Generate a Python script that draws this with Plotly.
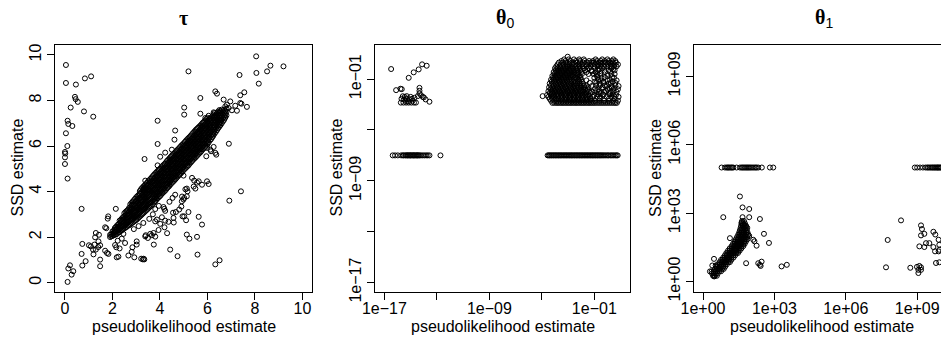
import numpy as np
import plotly.graph_objects as go

W, H = 941, 338

# ---------------- panel 1: tau (linear scale) ----------------
# dense diagonal band, one column of SSD estimates per pseudolikelihood value
tau_band_pl = [1.9, 2.0, 2.1, 2.2, 2.3, 2.4, 2.5, 2.6, 2.7, 2.8, 2.9, 3.0, 3.1, 3.2, 3.3,
               3.4, 3.5, 3.6, 3.7, 3.8, 3.9, 4.0, 4.1, 4.2, 4.3, 4.4, 4.5, 4.6, 4.7, 4.8,
               4.9, 5.0, 5.1, 5.2, 5.3, 5.4, 5.5, 5.6, 5.7, 5.8, 5.9, 6.0, 6.1, 6.2, 6.3,
               6.4, 6.5, 6.6, 6.7, 6.8]
tau_band_ssd = [
    [2.0, 2.1],
    [2.05, 2.15, 2.25],
    [2.1, 2.22, 2.32, 2.4],
    [2.15, 2.28, 2.4, 2.52],
    [2.22, 2.35, 2.48, 2.6, 2.72],
    [2.3, 2.45, 2.58, 2.7, 2.82],
    [2.38, 2.52, 2.66, 2.8, 2.92, 3.05],
    [2.45, 2.6, 2.75, 2.88, 3.0, 3.15],
    [2.52, 2.68, 2.84, 2.98, 3.12, 3.28],
    [2.6, 2.76, 2.92, 3.08, 3.22, 3.38, 3.5],
    [2.68, 2.85, 3.0, 3.15, 3.3, 3.45, 3.62],
    [2.75, 2.92, 3.1, 3.26, 3.42, 3.58, 3.75],
    [2.85, 3.02, 3.2, 3.36, 3.52, 3.68, 3.85],
    [2.95, 3.12, 3.3, 3.48, 3.62, 3.78, 3.95, 4.1],
    [3.05, 3.22, 3.4, 3.58, 3.74, 3.9, 4.06, 4.22],
    [3.15, 3.32, 3.5, 3.68, 3.85, 4.0, 4.18, 4.32],
    [3.25, 3.42, 3.6, 3.78, 3.95, 4.12, 4.28, 4.45],
    [3.35, 3.52, 3.7, 3.9, 4.05, 4.22, 4.4, 4.56],
    [3.45, 3.62, 3.8, 4.0, 4.16, 4.32, 4.5, 4.68],
    [3.58, 3.75, 3.92, 4.1, 4.28, 4.45, 4.62, 4.8],
    [3.7, 3.85, 4.02, 4.2, 4.38, 4.55, 4.72, 4.9],
    [3.8, 3.96, 4.14, 4.32, 4.5, 4.66, 4.84, 5.0],
    [3.92, 4.08, 4.25, 4.42, 4.6, 4.78, 4.95, 5.12],
    [4.02, 4.18, 4.36, 4.54, 4.72, 4.88, 5.05, 5.22],
    [4.15, 4.3, 4.48, 4.66, 4.84, 5.0, 5.18, 5.35],
    [4.25, 4.42, 4.6, 4.78, 4.95, 5.12, 5.3, 5.46],
    [4.38, 4.54, 4.72, 4.9, 5.06, 5.22, 5.4, 5.58],
    [4.48, 4.65, 4.82, 5.0, 5.18, 5.34, 5.52, 5.68],
    [4.6, 4.76, 4.94, 5.12, 5.28, 5.45, 5.62, 5.8],
    [4.72, 4.88, 5.05, 5.22, 5.4, 5.56, 5.74, 5.9],
    [4.82, 5.0, 5.16, 5.34, 5.5, 5.68, 5.85, 6.02],
    [4.95, 5.1, 5.28, 5.45, 5.62, 5.78, 5.96, 6.12],
    [5.05, 5.22, 5.4, 5.56, 5.72, 5.9, 6.06, 6.24],
    [5.15, 5.32, 5.5, 5.68, 5.84, 6.0, 6.18, 6.35],
    [5.28, 5.45, 5.62, 5.8, 5.96, 6.12, 6.3, 6.46],
    [5.4, 5.56, 5.72, 5.9, 6.06, 6.24, 6.4, 6.58],
    [5.5, 5.66, 5.84, 6.02, 6.18, 6.35, 6.52, 6.7],
    [5.62, 5.78, 5.95, 6.12, 6.3, 6.46, 6.62, 6.8],
    [5.72, 5.9, 6.06, 6.24, 6.4, 6.58, 6.74, 6.9],
    [5.85, 6.0, 6.18, 6.36, 6.52, 6.7, 6.86, 7.02],
    [5.96, 6.12, 6.3, 6.48, 6.64, 6.8, 6.96, 7.12],
    [6.08, 6.24, 6.42, 6.6, 6.76, 6.92, 7.08, 7.24],
    [6.25, 6.4, 6.56, 6.72, 6.88, 7.04, 7.2],
    [6.38, 6.52, 6.68, 6.84, 7.0, 7.15, 7.3],
    [6.55, 6.7, 6.86, 7.0, 7.15, 7.3, 7.45],
    [6.7, 6.85, 7.0, 7.15, 7.3, 7.45],
    [6.85, 7.0, 7.15, 7.3, 7.45, 7.58],
    [7.0, 7.15, 7.3, 7.45, 7.6],
    [7.15, 7.3, 7.45, 7.6],
    [7.35, 7.5, 7.65],
]
tau_band2_pl = [1.95, 2.05, 2.15, 2.25, 2.35, 2.45, 2.55, 2.65, 2.75, 2.85, 2.95, 3.05,
                3.15, 3.25, 3.35, 3.45, 3.55, 3.65, 3.75, 3.85, 3.95, 4.05, 4.15, 4.25,
                4.35, 4.45, 4.55, 4.65, 4.75, 4.85, 4.95, 5.05, 5.15, 5.25, 5.35, 5.45,
                5.55, 5.65, 5.75, 5.85, 5.95, 6.05, 6.15, 6.25, 6.35, 6.45, 6.55, 6.65,
                6.75]
tau_band2_ssd = [
    [2.03, 2.13],
    [2.08, 2.18, 2.28],
    [2.12, 2.24, 2.35, 2.45],
    [2.2, 2.32, 2.44, 2.56],
    [2.27, 2.4, 2.52, 2.65, 2.76],
    [2.35, 2.48, 2.62, 2.75, 2.88],
    [2.42, 2.56, 2.7, 2.84, 2.96, 3.1],
    [2.5, 2.65, 2.8, 2.93, 3.06, 3.2],
    [2.56, 2.72, 2.88, 3.03, 3.17, 3.32, 3.44],
    [2.64, 2.8, 2.96, 3.12, 3.26, 3.42, 3.56],
    [2.72, 2.88, 3.05, 3.2, 3.36, 3.52, 3.68],
    [2.8, 2.97, 3.15, 3.31, 3.47, 3.63, 3.8],
    [2.9, 3.07, 3.25, 3.42, 3.57, 3.73, 3.9, 4.02],
    [3.0, 3.17, 3.35, 3.53, 3.68, 3.84, 4.0, 4.16],
    [3.1, 3.27, 3.45, 3.63, 3.8, 3.95, 4.12, 4.27],
    [3.2, 3.37, 3.55, 3.73, 3.9, 4.06, 4.23, 4.38],
    [3.3, 3.47, 3.65, 3.84, 4.0, 4.17, 4.34, 4.5],
    [3.4, 3.57, 3.75, 3.95, 4.1, 4.27, 4.45, 4.62],
    [3.52, 3.68, 3.86, 4.05, 4.22, 4.38, 4.56, 4.74],
    [3.64, 3.8, 3.97, 4.15, 4.33, 4.5, 4.67, 4.85],
    [3.75, 3.9, 4.08, 4.26, 4.44, 4.6, 4.78, 4.95],
    [3.86, 4.02, 4.2, 4.37, 4.55, 4.72, 4.9, 5.06],
    [3.97, 4.13, 4.3, 4.48, 4.66, 4.83, 5.0, 5.17],
    [4.08, 4.24, 4.42, 4.6, 4.78, 4.94, 5.12, 5.28],
    [4.2, 4.36, 4.54, 4.72, 4.9, 5.06, 5.24, 5.4],
    [4.32, 4.48, 4.66, 4.84, 5.0, 5.17, 5.35, 5.52],
    [4.43, 4.6, 4.77, 4.95, 5.12, 5.28, 5.46, 5.63],
    [4.54, 4.7, 4.88, 5.06, 5.23, 5.4, 5.57, 5.74],
    [4.66, 4.82, 5.0, 5.17, 5.34, 5.5, 5.68, 5.85],
    [4.77, 4.94, 5.1, 5.28, 5.45, 5.62, 5.8, 5.96],
    [4.88, 5.05, 5.22, 5.4, 5.56, 5.73, 5.9, 6.07],
    [5.0, 5.16, 5.34, 5.5, 5.67, 5.84, 6.01, 6.18],
    [5.1, 5.27, 5.45, 5.62, 5.78, 5.95, 6.12, 6.3],
    [5.22, 5.38, 5.56, 5.74, 5.9, 6.06, 6.24, 6.4],
    [5.34, 5.5, 5.67, 5.85, 6.01, 6.18, 6.35, 6.52],
    [5.45, 5.61, 5.78, 5.96, 6.12, 6.3, 6.46, 6.64],
    [5.56, 5.72, 5.9, 6.07, 6.24, 6.4, 6.57, 6.75],
    [5.67, 5.84, 6.0, 6.18, 6.35, 6.52, 6.68, 6.85],
    [5.78, 5.95, 6.12, 6.3, 6.46, 6.64, 6.8, 6.96],
    [5.9, 6.06, 6.24, 6.42, 6.58, 6.75, 6.91, 7.07],
    [6.02, 6.18, 6.36, 6.54, 6.7, 6.86, 7.02, 7.18],
    [6.16, 6.32, 6.49, 6.66, 6.82, 6.98, 7.14],
    [6.3, 6.46, 6.62, 6.78, 6.94, 7.1, 7.25],
    [6.46, 6.61, 6.77, 6.92, 7.07, 7.22, 7.38],
    [6.62, 6.77, 6.93, 7.08, 7.22, 7.38],
    [6.78, 6.92, 7.08, 7.22, 7.38, 7.52],
    [6.92, 7.08, 7.22, 7.38, 7.52],
    [7.08, 7.22, 7.38, 7.52],
    [7.25, 7.4, 7.55],
]
# scattered tau estimates (pseudolikelihood, SSD)
tau_pairs = [
    (0.04, 9.56), (0.04, 8.77), (0.46, 8.70), (0.84, 8.97), (1.10, 9.06), (0.42, 8.16),
    (0.45, 8.06), (0.54, 7.94), (0.24, 7.69), (0.80, 7.52), (1.19, 7.29), (0.11, 7.11),
    (0.14, 6.97), (0.31, 6.88), (0.04, 6.56), (0.10, 6.00), (0.00, 5.74), (0.01, 5.67),
    (0.00, 5.50), (0.00, 5.21), (0.11, 4.57), (0.70, 3.24),
    (0.11, 0.03), (0.21, 0.76), (0.14, 0.62), (0.35, 0.50), (0.28, 0.35), (0.73, 0.75),
    (0.87, 0.94), (0.73, 1.70), (1.01, 1.64), (1.09, 1.59), (0.70, 1.26), (1.18, 1.45),
    (1.30, 1.45), (1.40, 1.56), (1.48, 1.64), (1.69, 1.40), (1.77, 1.30), (1.83, 1.26),
    (1.48, 1.01), (1.48, 0.72), (1.30, 2.18), (1.43, 2.10), (1.27, 1.99), (1.69, 2.43),
    (1.74, 2.39), (1.82, 2.91), (1.80, 2.81), (2.16, 1.55), (2.18, 1.11), (2.14, 3.24),
    (1.20, 1.24), (1.41, 1.81), (1.24, 1.67), (2.25, 1.14), (2.30, 1.50), (2.11, 1.65),
    (2.39, 1.93), (2.46, 2.14), (2.53, 1.74), (2.22, 1.84), (2.67, 1.19), (2.81, 1.35),
    (2.92, 1.11), (2.84, 1.55), (3.02, 1.81), (3.02, 1.67), (3.21, 1.05), (3.31, 1.05),
    (3.38, 2.03), (3.40, 2.08), (3.49, 1.96), (3.59, 2.14), (3.66, 2.08), (3.74, 1.67),
    (3.73, 2.18), (3.80, 2.69), (3.87, 2.77), (4.08, 2.87), (4.01, 2.58), (4.22, 2.72),
    (4.19, 2.43), (4.36, 2.67), (3.95, 3.37), (4.15, 3.32), (4.22, 3.15), (3.80, 3.23),
    (4.43, 1.45), (4.74, 1.16), (4.57, 2.84), (4.67, 3.10), (4.81, 3.21), (4.64, 3.86),
    (4.53, 3.72), (4.99, 3.65), (4.95, 2.91), (3.34, 1.02), (3.28, 1.02), (4.18, 3.24),
    (4.55, 3.07), (4.58, 2.64), (4.30, 2.17), (3.94, 2.31), (3.80, 2.02), (4.90, 3.34),
    (4.93, 3.78), (5.07, 4.10), (5.42, 4.22), (5.56, 4.39),
    (2.90, 2.35), (3.10, 2.48), (3.30, 2.62), (3.55, 2.80), (3.70, 3.00), (4.40, 3.55),
    (4.99, 4.70), (5.35, 4.60), (5.44, 4.48), (5.63, 4.45), (5.77, 4.30), (5.98, 4.45),
    (6.05, 4.33), (5.49, 4.13), (5.13, 4.13), (5.16, 4.01), (5.13, 3.79), (5.02, 3.72),
    (4.92, 3.57), (7.41, 4.01), (6.92, 3.60), (5.20, 3.10), (5.02, 2.91), (5.10, 2.74),
    (5.63, 2.89), (5.77, 2.55), (5.13, 2.11), (5.24, 1.93), (5.56, 2.01), (5.58, 1.23),
    (6.33, 0.80), (6.51, 0.98),
    (3.90, 7.11), (3.90, 6.09), (3.35, 5.43), (5.02, 7.69), (5.02, 7.38), (4.64, 6.68),
    (4.61, 6.28), (4.22, 5.71), (4.01, 5.53), (4.50, 5.84), (3.90, 5.15), (3.38, 4.48),
    (3.31, 4.13), (3.35, 4.04),
    (5.20, 9.28), (8.05, 9.94), (8.65, 9.53), (8.51, 9.28), (9.20, 9.50), (8.06, 9.21),
    (8.16, 8.74), (7.35, 9.12), (7.55, 8.36), (7.38, 8.23), (7.66, 7.72), (7.43, 7.86),
    (6.33, 8.40), (6.40, 8.30), (5.70, 8.11), (6.90, 6.10), (6.68, 8.04), (6.82, 7.82),
    (6.96, 7.96), (6.75, 7.74), (6.89, 7.67), (7.03, 7.57), (7.24, 7.55), (7.17, 7.77),
    (7.38, 7.89), (5.70, 7.42), (6.05, 7.33), (5.91, 7.23), (6.26, 7.48), (6.33, 7.33),
    (6.54, 7.52), (6.57, 7.16), (5.98, 5.92), (6.12, 5.84), (6.26, 5.96), (6.33, 5.70),
    (6.37, 5.62), (5.95, 5.55), (6.15, 5.77),
]

# ---------------- panel 2: theta0 (log10 of the estimates) ----------------
theta0_row_ssd_log10 = -7.0
theta0_row_pl_log10 = [
    -16.37, -16.19, -15.98, -15.73, -15.60, -15.53, -15.42, -15.35, -15.27, -15.22, -15.15,
    -15.07, -15.02, -14.97, -14.89, -14.82, -14.77, -14.71, -14.64, -14.56, -14.51, -14.46,
    -14.38, -14.31, -14.21, -14.08, -13.95, -13.82, -13.70, -13.57, -12.73,
    -4.56, -4.47, -4.40, -4.31, -4.24, -4.15, -4.08, -3.99, -3.92, -3.84, -3.75, -3.68,
    -3.59, -3.52, -3.44, -3.35, -3.28, -3.19, -3.12, -3.04, -2.95, -2.88, -2.79, -2.72,
    -2.64, -2.55, -2.48, -2.39, -2.32, -2.24, -2.15, -2.08, -1.99, -1.92, -1.84, -1.75,
    -1.68, -1.59, -1.52, -1.44, -1.35, -1.28, -1.19, -1.12, -1.04, -0.95, -0.88, -0.79,
    -0.72, -0.63, -0.55, -0.47, -0.38, -0.29, -0.19, -0.10, 0.01, 0.09, 0.21, 0.30,
    0.41, 0.50, 0.61, 0.70, 0.78,
]
theta0_pairs_log10 = [
    (-16.49, -0.21), (-14.13, 0.16), (-13.78, 0.05), (-14.39, -0.24), (-14.77, -0.47),
    (-15.15, -0.90), (-16.11, -1.87), (-15.78, -1.76), (-15.68, -1.79), (-14.33, -1.69),
    (-14.33, -1.92), (-14.33, -2.13), (-14.46, -2.34), (-14.21, -2.27), (-14.08, -2.40),
    (-14.00, -2.44), (-13.86, -2.60), (-13.57, -2.78),
    (-15.60, -2.35), (-15.45, -2.40), (-15.30, -2.34), (-15.70, -2.55), (-15.50, -2.60),
    (-15.30, -2.55), (-15.10, -2.60), (-14.90, -2.55), (-15.75, -2.85), (-15.55, -2.85),
    (-15.35, -2.85), (-15.15, -2.85), (-14.95, -2.85), (-14.75, -2.85), (-14.60, -2.85),
    (-14.71, -2.47), (-15.00, -2.40), (-15.20, -2.75), (-15.40, -2.70), (-14.85, -2.70),
    (-4.94, -2.34), (-3.03, 0.76),
    # right-hand part of the upper cloud (medium density)
    (-0.95, -2.7), (-0.6, -2.7), (-0.25, -2.7), (0.1, -2.7), (0.45, -2.7), (0.8, -2.7),
    (-1.1, -2.4), (-0.55, -2.4), (-0.05, -2.4), (0.55, -2.4), (0.85, -2.4),
    (-0.75, -2.2), (-0.35, -2.2), (0.15, -2.2), (0.4, -2.2),
    (-1.15, -2.0), (-0.65, -2.0), (-0.25, -2.0), (0.25, -2.0), (0.7, -2.0),
    (-0.95, -1.75), (-0.45, -1.75), (0.15, -1.75), (0.5, -1.75),
    (-1.2, -1.55), (-0.6, -1.55), (-0.05, -1.55), (0.3, -1.55), (0.85, -1.55),
    (-1.35, -1.3), (-0.85, -1.3), (-0.3, -1.3), (0.25, -1.3), (0.6, -1.3),
    (-1.6, -1.1), (-0.5, -1.1), (0.0, -1.1), (0.7, -1.1),
    (-0.75, -0.85), (-0.2, -0.85), (0.35, -0.85),
    (-1.45, -0.6), (-0.8, -0.6), (0.0, -0.6), (0.55, -0.6),
    (-1.2, -0.4), (-0.45, -0.4), (0.2, -0.4),
    (-1.55, -0.2), (-0.6, -0.2), (0.45, -0.2),
]
theta0_cloud_ssd_log10 = [-2.87, -2.7, -2.55, -2.4, -2.25, -2.1, -1.95, -1.8, -1.65, -1.5,
                          -1.35, -1.2, -1.05, -0.9, -0.75, -0.6, -0.45, -0.3, -0.15, 0.0,
                          0.15, 0.3, 0.42, 0.55]
theta0_cloud_pl_log10 = [
    [-4.2, -4.05, -3.9, -3.78, -3.65, -3.52, -3.4, -3.28, -3.15, -3.02, -2.9, -2.78, -2.65,
     -2.52, -2.4, -2.28, -2.15, -2.02, -1.9, -1.78, -1.65, -1.52, -1.4, -1.28, -1.15, -1.02,
     -0.88, -0.72, -0.57, -0.42, -0.27, -0.12, 0.03, 0.18, 0.33, 0.48, 0.6, 0.72],
    [-4.3, -4.05, -3.85, -3.6, -3.4, -3.2, -3.0, -2.8, -2.6, -2.4, -2.2, -2.0, -1.8, -1.6,
     -1.4, -1.2],
    [-4.4, -4.2, -3.95, -3.75, -3.5, -3.3, -3.1, -2.9, -2.7, -2.5, -2.3, -2.1, -1.9, -1.7,
     -1.5, -1.3, -0.6, 0.1, 0.55],
    [-4.5, -4.25, -4.05, -3.8, -3.6, -3.4, -3.2, -3.0, -2.8, -2.6, -2.4, -2.2, -2.0, -1.8,
     -1.55, -1.35, -0.8, 0.3],
    [-4.6, -4.3, -4.1, -3.9, -3.7, -3.5, -3.3, -3.1, -2.9, -2.7, -2.5, -2.3, -2.1, -1.9,
     -1.7, -1.45, -1.0, -0.3, 0.65],
    [-4.4, -4.2, -4.0, -3.8, -3.6, -3.4, -3.2, -3.0, -2.8, -2.6, -2.4, -2.2, -2.0, -1.8,
     -1.6, -1.3, -0.5, 0.2],
    [-4.5, -4.25, -4.05, -3.85, -3.65, -3.45, -3.25, -3.05, -2.85, -2.65, -2.45, -2.25,
     -2.05, -1.85, -1.6, -1.4, -0.9, -0.1, 0.45],
    [-4.35, -4.15, -3.95, -3.75, -3.55, -3.35, -3.15, -2.95, -2.75, -2.55, -2.35, -2.15,
     -1.95, -1.7, -1.5, -0.7, 0.0, 0.8],
    [-4.45, -4.2, -4.0, -3.8, -3.6, -3.4, -3.2, -3.0, -2.8, -2.6, -2.4, -2.2, -2.0, -1.75,
     -1.45, -0.35, 0.35],
    [-4.3, -4.1, -3.9, -3.7, -3.5, -3.3, -3.1, -2.9, -2.7, -2.5, -2.3, -2.05, -1.8, -1.6,
     -0.85, -0.2, 0.6],
    [-4.4, -4.15, -3.95, -3.75, -3.55, -3.35, -3.15, -2.95, -2.75, -2.5, -2.3, -2.1, -1.85,
     -0.6, 0.1],
    [-4.25, -4.05, -3.85, -3.65, -3.45, -3.25, -3.05, -2.85, -2.6, -2.4, -2.15, -1.95, -0.95,
     -0.3, 0.4],
    [-4.3, -4.1, -3.9, -3.7, -3.5, -3.3, -3.1, -2.9, -2.7, -2.45, -2.2, -2.0, -0.7, 0.2],
    [-4.15, -3.95, -3.75, -3.55, -3.35, -3.15, -2.95, -2.75, -2.5, -2.3, -2.05, -1.0, -0.45,
     0.5],
    [-4.2, -4.0, -3.8, -3.6, -3.4, -3.2, -3.0, -2.8, -2.6, -2.35, -2.1, -0.8, 0.0],
    [-4.05, -3.85, -3.65, -3.45, -3.25, -3.05, -2.85, -2.65, -2.4, -2.2, -1.95, -1.05, -0.55,
     0.3],
    [-4.1, -3.9, -3.7, -3.5, -3.3, -3.1, -2.9, -2.7, -2.5, -2.25, -2.0, -1.6, -0.9, -0.2],
    [-3.95, -3.75, -3.55, -3.35, -3.15, -2.95, -2.75, -2.55, -2.3, -2.05, -1.7, -1.2, -0.7,
     0.1, 0.55],
    [-4.0, -3.8, -3.6, -3.4, -3.2, -3.0, -2.8, -2.6, -2.35, -2.1, -1.8, -1.4, -0.95, -0.4,
     0.3],
    [-3.9, -3.65, -3.45, -3.25, -3.05, -2.85, -2.65, -2.4, -2.15, -1.9, -1.6, -1.3, -1.0,
     -0.75, -0.5, -0.25, 0.0, 0.25, 0.5, 0.7],
    [-3.8, -3.55, -3.35, -3.1, -2.9, -2.7, -2.45, -2.2, -1.95, -1.7, -1.45, -1.2, -0.95,
     -0.7, -0.45, -0.2, 0.05, 0.3, 0.55, 0.8],
    [-3.7, -3.4, -3.15, -2.9, -2.6, -2.35, -2.1, -1.85, -1.55, -1.25, -1.05, -0.85, -0.6,
     -0.35, -0.1, 0.15, 0.4, 0.65],
    [-3.5, -3.2, -2.8, -2.4, -2.1, -1.75, -1.4, -1.1, -0.8, -0.5, -0.2, 0.1, 0.35, 0.6],
    [-3.3, -2.95, -2.55, -2.15, -1.8, -0.9, -0.4, 0.0, 0.45],
]

# ---------------- panel 3: theta1 (log10 of the estimates) ----------------
theta1_row_ssd_log10 = 5.0
theta1_row_pl_log10 = [
    0.78, 0.92, 0.99, 1.04, 1.08, 1.13, 1.18, 1.22, 1.27, 1.41, 1.55, 1.62, 1.67, 1.72,
    1.77, 1.82, 1.87, 1.92, 1.97, 2.02, 2.08, 2.14, 2.20, 2.25, 2.32, 2.47, 2.81, 2.95,
    8.90, 9.00, 9.12, 9.24, 9.35, 9.42, 9.47, 9.53, 9.58, 9.63, 9.67, 9.72, 9.76, 9.81,
    9.85, 9.88, 9.92, 9.96, 10.0,
]
theta1_band_ssd_log10 = [0.25, 0.35, 0.45, 0.55, 0.65, 0.75, 0.85, 0.95, 1.05, 1.15, 1.25,
                         1.35, 1.45, 1.55, 1.65, 1.75, 1.85, 1.95, 2.05, 2.15, 2.25, 2.35,
                         2.45, 2.55, 2.65]
theta1_band_pl_log10 = [
    [0.42, 0.50, 0.58],
    [0.38, 0.46, 0.54, 0.62],
    [0.45, 0.52, 0.60, 0.68, 0.76],
    [0.50, 0.58, 0.65, 0.72, 0.80, 0.87],
    [0.56, 0.63, 0.70, 0.78, 0.85, 0.93],
    [0.62, 0.70, 0.77, 0.84, 0.92, 1.00],
    [0.70, 0.77, 0.84, 0.91, 0.98, 1.06, 1.13],
    [0.76, 0.83, 0.90, 0.97, 1.04, 1.11, 1.19],
    [0.85, 0.92, 0.99, 1.06, 1.13, 1.20, 1.28],
    [0.92, 0.99, 1.06, 1.13, 1.20, 1.27, 1.35],
    [0.98, 1.05, 1.12, 1.19, 1.26, 1.33, 1.40, 1.47],
    [1.05, 1.12, 1.19, 1.26, 1.33, 1.40, 1.47, 1.54],
    [1.12, 1.19, 1.26, 1.33, 1.40, 1.47, 1.54, 1.61],
    [1.20, 1.27, 1.34, 1.41, 1.48, 1.55, 1.62, 1.69],
    [1.26, 1.33, 1.40, 1.47, 1.54, 1.61, 1.68, 1.75],
    [1.32, 1.39, 1.46, 1.53, 1.60, 1.67, 1.74, 1.80],
    [1.38, 1.45, 1.52, 1.59, 1.66, 1.73, 1.80, 1.86],
    [1.43, 1.50, 1.57, 1.64, 1.71, 1.78, 1.85],
    [1.48, 1.55, 1.62, 1.69, 1.76, 1.83, 1.90],
    [1.52, 1.59, 1.66, 1.73, 1.80, 1.87],
    [1.55, 1.62, 1.69, 1.76, 1.83],
    [1.58, 1.65, 1.72, 1.79, 1.86],
    [1.60, 1.67, 1.74, 1.80],
    [1.62, 1.69, 1.76],
    [1.64, 1.72],
]
theta1_pairs_log10 = [
    (1.55, 3.73), (1.66, 3.25), (1.94, 3.18), (0.85, 2.82), (1.66, 2.82), (1.94, 2.82),
    (2.39, 2.74), (1.62, 2.59), (1.69, 2.49), (1.81, 2.42), (1.13, 1.90), (1.94, 2.00),
    (2.11, 1.83), (2.16, 1.76), (2.25, 1.57), (2.56, 2.09), (2.77, 1.69), (1.81, 0.80),
    (2.32, 0.80), (2.39, 0.73), (2.46, 0.87), (2.42, 0.68), (3.30, 0.66), (3.52, 0.73),
    (0.46, 0.99), (0.39, 0.70), (0.53, 0.70), (0.36, 0.44), (0.29, 0.44), (0.46, 0.25),
    (0.47, 0.22),
    (8.32, 2.68), (7.76, 1.82), (7.69, 0.62), (8.71, 0.60), (8.99, 0.64), (9.09, 0.68),
    (9.16, 0.62), (9.05, 0.51), (9.16, 0.51), (9.05, 0.37), (9.16, 2.46), (9.20, 2.30),
    (9.16, 2.02), (9.30, 2.09), (9.68, 2.18), (9.76, 2.06), (9.09, 1.54), (9.30, 1.51),
    (9.37, 1.68), (9.51, 1.68), (9.68, 1.51), (9.75, 1.32), (9.90, 1.83), (9.93, 1.61),
    (9.93, 1.39), (9.79, 0.81), (9.93, 0.84), (9.90, 1.32),
]

# ---------------- assemble point sets ----------------
def columns(xs, ys_lists):
    px, py = [], []
    for x, ys in zip(xs, ys_lists):
        for y in ys:
            px.append(x)
            py.append(y)
    return px, py

def rows(ys, xs_lists):
    px, py = [], []
    for y, xs in zip(ys, xs_lists):
        for x in xs:
            px.append(x)
            py.append(y)
    return px, py

bx, by = columns(tau_band_pl, tau_band_ssd)
bx2, by2 = columns(tau_band2_pl, tau_band2_ssd)
tau_x = bx + bx2 + [p[0] for p in tau_pairs]
tau_y = by + by2 + [p[1] for p in tau_pairs]

cx, cy = rows(theta0_cloud_ssd_log10, theta0_cloud_pl_log10)
t0_lx = cx + theta0_row_pl_log10 + [p[0] for p in theta0_pairs_log10]
t0_ly = cy + [theta0_row_ssd_log10] * len(theta0_row_pl_log10) + [p[1] for p in theta0_pairs_log10]
t0_x = (10.0 ** np.array(t0_lx)).tolist()
t0_y = (10.0 ** np.array(t0_ly)).tolist()

ex, ey = rows(theta1_band_ssd_log10, theta1_band_pl_log10)
t1_lx = ex + theta1_row_pl_log10 + [p[0] for p in theta1_pairs_log10]
t1_ly = ey + [theta1_row_ssd_log10] * len(theta1_row_pl_log10) + [p[1] for p in theta1_pairs_log10]
t1_x = (10.0 ** np.array(t1_lx)).tolist()
t1_y = (10.0 ** np.array(t1_ly)).tolist()

# ---------------- figure ----------------
SANS = "Liberation Sans, Arial, Helvetica, sans-serif"
SERIF = "Liberation Serif, Times New Roman, serif"
FS = 16

marker = dict(symbol="circle-open", size=5, color="black", line=dict(width=1, color="black"))

fig = go.Figure()
fig.add_trace(go.Scatter(x=tau_x, y=tau_y, mode="markers", marker=marker,
                         xaxis="x", yaxis="y", showlegend=False, hoverinfo="skip"))
fig.add_trace(go.Scatter(x=t0_x, y=t0_y, mode="markers", marker=marker,
                         xaxis="x2", yaxis="y2", showlegend=False, hoverinfo="skip"))
fig.add_trace(go.Scatter(x=t1_x, y=t1_y, mode="markers", marker=marker,
                         xaxis="x3", yaxis="y3", showlegend=False, hoverinfo="skip"))

y_dom = [(H - 291.7) / H, (H - 44.5) / H]
x_doms = [[55 / W, 311.5 / W], [375 / W, 630 / W], [694 / W, 1.0]]

def ax(**kw):
    base = dict(showline=True, linecolor="black", linewidth=1, mirror=True,
                ticks="outside", ticklen=7, tickwidth=1, tickcolor="black",
                showgrid=False, zeroline=False, automargin=False,
                tickfont=dict(family=SANS, size=FS, color="black"))
    base.update(kw)
    return base

neg_vals = [1e-17, 1e-13, 1e-9, 1e-5, 1e-1]
neg_text = ["1e\u221217", " ", "1e\u221209", " ", "1e\u221201"]
pos_vals = [1, 1e3, 1e6, 1e9]
pos_text = ["1e+00", "1e+03", "1e+06", "1e+09"]
XSTAND = -5

fig.update_layout(
    width=W, height=H, margin=dict(l=0, r=0, t=0, b=0, autoexpand=False),
    paper_bgcolor="white", plot_bgcolor="white",
    xaxis=ax(domain=x_doms[0], range=[-0.42, 10.38], tickvals=[0, 2, 4, 6, 8, 10],
             ticklabelstandoff=XSTAND, anchor="y"),
    yaxis=ax(domain=y_dom, range=[-0.40, 10.46], tickvals=[0, 2, 4, 6, 8, 10],
             tickangle=-90, anchor="x"),
    xaxis2=ax(domain=x_doms[1], type="log", range=[-17.72, 1.72], tickvals=neg_vals,
              ticktext=neg_text, ticklabelstandoff=XSTAND, anchor="y2"),
    yaxis2=ax(domain=y_dom, type="log", range=[-17.72, 1.72], tickvals=neg_vals,
              ticktext=neg_text, tickangle=-90, anchor="x2"),
    xaxis3=ax(domain=x_doms[2], type="log", range=[-0.38, 10.0], tickvals=pos_vals,
              ticktext=pos_text, ticklabelstandoff=XSTAND, anchor="y3"),
    yaxis3=ax(domain=y_dom, type="log", range=[-0.45, 10.4], tickvals=pos_vals,
              ticktext=pos_text, tickangle=-90, mirror=False, anchor="x3"),
)

titles = [
    ("<b>\u03c4</b>", 183.5),
    ("<b>\u03b8</b><sub><span style=\"font-family:Liberation Sans;font-weight:normal\">0</span></sub>", 505),
    ("<b>\u03b8</b><sub><span style=\"font-family:Liberation Sans;font-weight:normal\">1</span></sub>", 824),
]
ann = []
for txt, xc in titles:
    ann.append(dict(text=txt, x=xc / W, y=(H - 18) / H, xref="paper", yref="paper",
                    xanchor="center", yanchor="middle", showarrow=False,
                    font=dict(family=SERIF, size=20, color="black")))
for xc, ylab_x in [(183.5, 16.5), (502.5, 335.5), (822, 655)]:
    ann.append(dict(text="pseudolikelihood estimate", x=xc / W, y=(H - 326) / H,
                    xref="paper", yref="paper", xanchor="center", yanchor="middle",
                    showarrow=False, font=dict(family=SANS, size=FS, color="black")))
    ann.append(dict(text="SSD estimate", x=ylab_x / W, y=(H - 168) / H,
                    xref="paper", yref="paper", xanchor="center", yanchor="middle",
                    textangle=-90, showarrow=False,
                    font=dict(family=SANS, size=FS, color="black")))
fig.update_layout(annotations=ann)

fig.write_html("out.html")
